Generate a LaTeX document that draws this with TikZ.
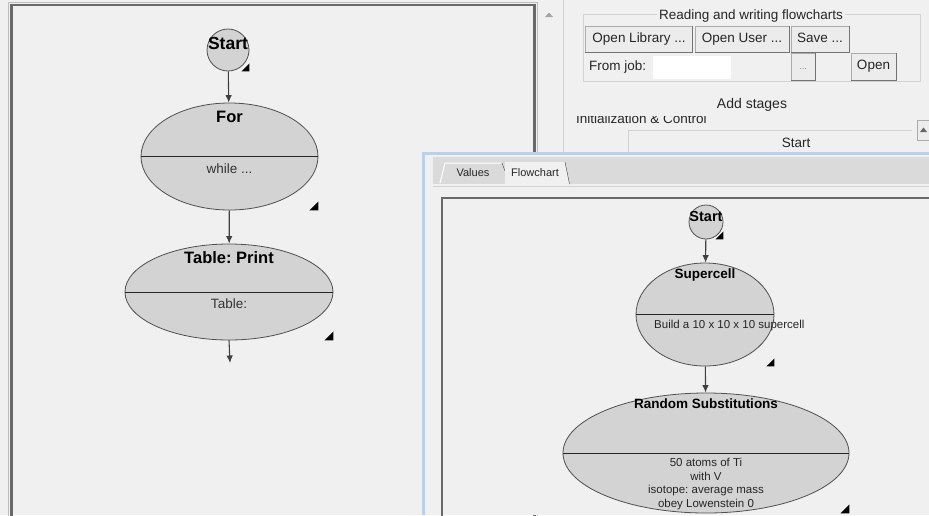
\documentclass[tikz,border=0pt]{standalone}
\usepackage{fontspec}
\setmainfont{Liberation Sans}
\frenchspacing
\usetikzlibrary{arrows.meta,positioning,shapes.geometric}
\definecolor{guibg}{RGB}{240,240,240}
\definecolor{stagefill}{RGB}{211,211,211}
\definecolor{stageline}{RGB}{80,80,80}
\definecolor{framegray}{RGB}{105,105,105}
\definecolor{tabgray}{RGB}{218,218,218}
\definecolor{winblue}{RGB}{185,209,234}
\definecolor{btnfill}{RGB}{236,236,236}
\definecolor{btnline}{RGB}{172,172,172}
\definecolor{boxline}{RGB}{210,210,210}
\tikzstyle{arrow} = [line width=1.1pt,-{Latex[length=7.5pt,width=6.5pt]},color=black!75]
\tikzstyle{stage} = [ellipse,draw=stageline,fill=stagefill,line width=0.8pt,inner sep=0pt]
\tikzstyle{startnode} = [circle,draw=stageline,fill=stagefill,line width=0.8pt,inner sep=0pt]
\tikzstyle{divider} = [line width=1pt,color=black!85]
\tikzstyle{bigtitle} = [inner sep=0pt,font=\bfseries\fontsize{16.5}{18}\selectfont]
\tikzstyle{bigtext} = [inner sep=0pt,font=\fontsize{13.5}{15}\selectfont,text=black!80]
\tikzstyle{smalltitle} = [inner sep=0pt,font=\bfseries\fontsize{13.5}{15}\selectfont]
\tikzstyle{smalltext} = [inner sep=0pt,align=center,font=\fontsize{11.5}{13.7}\selectfont,text=black!85]
\tikzstyle{guitext} = [inner sep=0pt,font=\fontsize{13.5}{15}\selectfont,text=black!85]
\tikzstyle{guibtn} = [draw=btnline,fill=btnfill,inner sep=0pt,minimum height=26pt,text height=9.7pt,text depth=2.8pt,font=\fontsize{13.5}{15}\selectfont,text=black!85]
\tikzstyle{btnshadow} = [line width=1pt,color=black!55]
\tikzstyle{tabtext} = [inner sep=0pt,font=\fontsize{11}{13}\selectfont,text=black!85]
\newcommand{\resizemark}[2]{\fill (#1.south -| #1.east) -- ++(0,-#2) -- ++(-#2,#2) -- cycle;}

\begin{document}
\begin{tikzpicture}[x=1pt,y=-1pt]
\useasboundingbox (0,0) rectangle (929,515);
\fill[guibg] (0,0) rectangle (929,515);

% Left flowchart panel
\draw[black!25, line width=1pt] (8.5,520) -- (8.5,2.5) -- (537.5,2.5) -- (537.5,520);
\draw[framegray, line width=2.5pt] (11.5,520) -- (11.5,5) -- (534.5,5) -- (534.5,520);
\fill[gray!70] (545,17) -- (553,17) -- (549,12.5) -- cycle;
\draw[boxline] (563,0) -- (563,152);

\node[startnode, minimum size=42pt] (start) at (228,50) {};
\node[bigtitle, font=\bfseries\fontsize{17.5}{19}\selectfont, below=8pt of start.north] (starttitle) {Start};
\node[stage, minimum width=177pt, minimum height=107pt] (for) at (229.5,156.5) {};
\draw[divider] (for.west) -- (for.east);
\node[bigtitle, below=8pt of for.north] (fortitle) {For};
\node[bigtext, below=7pt of for.center] (fortext) {while ...};
\node[stage, minimum width=208pt, minimum height=96pt] (table) at (229,292) {};
\draw[divider] (table.west) -- (table.east);
\node[bigtitle, below=8pt of table.north] (tabletitle) {Table: Print};
\node[bigtext, below=7pt of table.center] (tabletext) {Table:};
\coordinate (tableout) at (230,363);

\draw[arrow] (start) -- (for);
\draw[arrow] (for) -- (table);
\draw[arrow] (table.south) -- (tableout);
\resizemark{start}{8}
\resizemark{for}{9}
\resizemark{table}{9}

% Stage library controls
\draw[boxline] (583,14) rectangle (920,81);
\node[guitext, fill=guibg, inner xsep=2pt] (rwtitle) at (751,16) {Reading and writing flowcharts};
\node[guibtn, minimum width=107pt] (openlib) at (639,39.5) {Open Library ...};
\node[guibtn, minimum width=94pt] (openuser) at (742,39.5) {Open User ...};
\node[guibtn, minimum width=58pt] (savebtn) at (820,39.5) {Save ...};
\node[guitext, anchor=west, text height=9.7pt, text depth=2.8pt] (joblabel) at (589,67) {From job:};
\node[fill=white, minimum width=78pt, minimum height=23pt, inner sep=0pt] (jobfield) at (692,67) {};
\node[guibtn, minimum width=24pt, minimum height=27pt, font=\fontsize{9}{10}\selectfont, text=black!45] (browse) at (803,66.5) {...};
\node[guibtn, minimum width=45pt, minimum height=27pt] (openbtn) at (873.5,66.5) {Open};
\foreach \b in {openlib,openuser,savebtn,browse,openbtn}
    \draw[btnshadow] (\b.south west) -- (\b.south east) -- (\b.north east);

\node[guitext, font=\fontsize{14}{16}\selectfont] (addstages) at (752,105) {Add stages};
\begin{scope}
  \clip (560,116) rectangle (760,130);
  \node[guitext, anchor=base west] (initlabel) at (576,123) {Initialization \& Control};
\end{scope}
\draw[boxline] (628,152) -- (628,130.5) -- (912,130.5);
\node[guitext] (liststart) at (796,143) {Start};
\node[draw=btnline, fill=btnfill, minimum width=13pt, minimum height=20pt, inner sep=0pt] (scrollup) at (923.5,130) {};
\fill[black!60] (920,132) -- (927,132) -- (923.5,127.5) -- cycle;

% Stage editor window
\fill[guibg] (422,152) rectangle (929,515);
\draw[winblue, line width=2.5pt] (423.25,515) -- (423.25,153.25) -- (929,153.25);
\fill[tabgray] (433,157) rectangle (929,184);
\draw[boxline] (433,186) -- (929,186);
\draw[white, line width=1pt] (440,183) -- (445,163) -- (501,163);
\draw[black!75] (502,163) -- (505,171);
\fill[guibg] (505,162) -- (565,162) -- (569.5,184) -- (505,184) -- cycle;
\draw[black!75] (565,162) -- (569.5,184);
\node[tabtext] (valuestab) at (473,172.5) {Values};
\node[tabtext] (flowtab) at (535,172.5) {Flowchart};
\draw[framegray, line width=2.5pt] (442,520) -- (442,198) -- (935,198);

% Right flowchart
\node[startnode, minimum size=34pt] (start2) at (706,222) {};
\node[smalltitle, font=\bfseries\fontsize{14.5}{16}\selectfont, below=7pt of start2.north] (start2title) {Start};
\node[stage, minimum width=138pt, minimum height=103pt] (super) at (705,314.5) {};
\draw[divider] (super.west) -- (super.east);
\node[smalltitle, below=6pt of super.north] (supertitle) {Supercell};
\node[smalltext, anchor=north west, xshift=-51pt, yshift=-5pt] (supertext) at (super.center) {Build a 10 x 10 x 10 supercell};
\node[stage, minimum width=286pt, minimum height=120pt] (rand) at (706,453) {};
\draw[divider] (rand.west) -- (rand.east);
\node[smalltitle, below=6pt of rand.north] (randtitle) {Random Substitutions};
\node[smalltext, below=5pt of rand.center] (randtext) {50 atoms of Ti\\with V\\isotope: average mass\\obey Lowenstein 0};

\draw[arrow] (start2) -- (super);
\draw[arrow] (super) -- (rand);
\resizemark{start2}{8}
\resizemark{super}{8}
\resizemark{rand}{9}
\end{tikzpicture}
\end{document}
